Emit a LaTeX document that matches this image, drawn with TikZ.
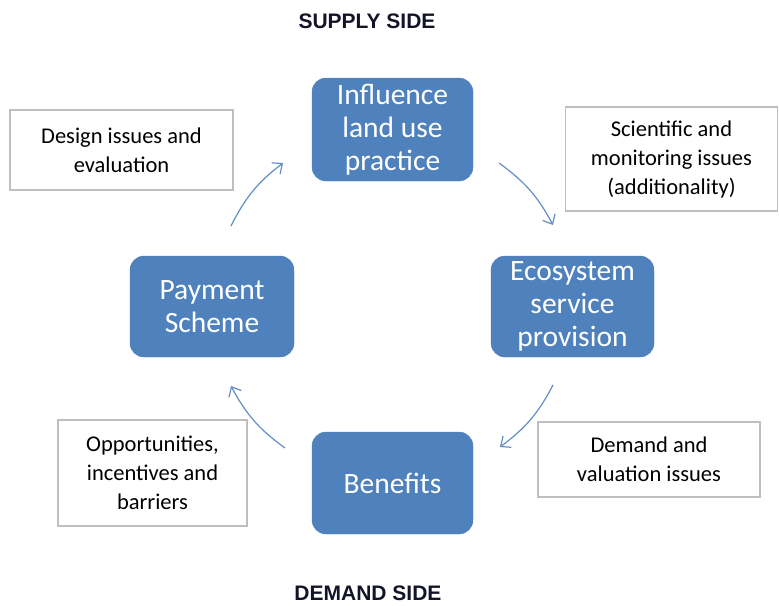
\documentclass[tikz,border=0pt]{standalone}
\usepackage{fontspec}
\setmainfont{Carlito}
\newfontfamily\labelfont{Liberation Sans}
\usetikzlibrary{arrows.meta}
\definecolor{boxblue}{RGB}{79,129,189}
\definecolor{flowblue}{RGB}{98,142,199}
\definecolor{framegray}{RGB}{191,191,191}
\definecolor{labelink}{RGB}{20,20,40}
\begin{document}
\begin{tikzpicture}[x=1pt,y=-1pt,
  stage/.style={draw=boxblue, fill=boxblue, rounded corners=14pt, text=white,
    align=center, inner sep=0pt, font=\fontsize{29.5}{33}\selectfont},
  issue/.style={draw=framegray, line width=1.2pt, fill=white, align=center,
    inner sep=0pt, font=\fontsize{22.5}{29}\selectfont},
  sidelabel/.style={text=labelink, font=\labelfont\bfseries\fontsize{21}{24}\selectfont},
  flow/.style={draw=flowblue, line width=1.2pt,
    -{Straight Barb[length=8pt,width=14pt,line width=1.2pt]}}]
\useasboundingbox (0,0) rectangle (779,605);

% cycle stages
\node[stage, minimum width=161pt, minimum height=103pt] (influence) at (392.5,129.5)
  {Influence\\land use\\practice};
\node[stage, minimum width=163pt, minimum height=101pt] (ecosystem) at (572.5,306.5)
  {Ecosystem\\service\\provision};
\node[stage, minimum width=161pt, minimum height=102pt] (benefits) at (392.5,483)
  {Benefits};
\node[stage, minimum width=164pt, minimum height=101pt] (payment) at (212,306.5)
  {Payment\\Scheme};

% issue boxes
\node[issue, minimum width=223pt, minimum height=80pt] (design) at (121.5,150)
  {Design issues and\\evaluation};
\node[issue, minimum width=212pt, minimum height=104pt] (science) at (671.5,159)
  {Scientific and\\monitoring issues\\(additionality)};
\node[issue, minimum width=189pt, minimum height=106pt] (opportunities) at (152.5,473)
  {Opportunities,\\incentives and\\barriers};
\node[issue, minimum width=222pt, minimum height=75pt] (demand) at (649,459.5)
  {Demand and\\valuation issues};

% side labels
\node[sidelabel] (supply) at (367,21) {SUPPLY SIDE};
\node[sidelabel] (demandside) at (368,593) {DEMAND SIDE};

% arc end points around the cycle
\coordinate (pay-out) at (231,226);
\coordinate (inf-in) at (283,163);
\coordinate (inf-out) at (499,163);
\coordinate (eco-in) at (553,225);
\coordinate (eco-out) at (553,385);
\coordinate (ben-in) at (500,447);
\coordinate (ben-out) at (285,448);
\coordinate (pay-in) at (231,386);

% cycle arrows
\draw[flow] (pay-out) to[bend left=13] (inf-in);
\draw[flow] (inf-out) to[bend left=13] (eco-in);
\draw[flow] (eco-out) to[bend left=13] (ben-in);
\draw[flow] (ben-out) to[bend left=13] (pay-in);
\end{tikzpicture}
\end{document}
